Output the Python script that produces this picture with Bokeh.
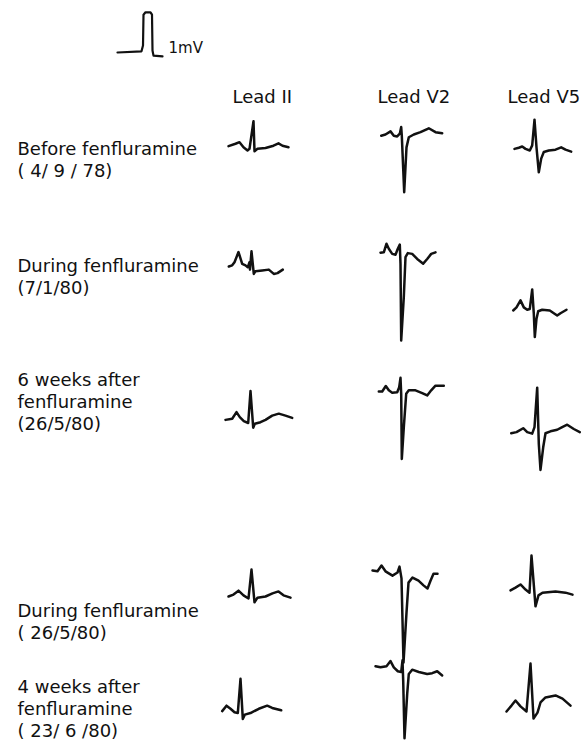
from bokeh.plotting import figure
from bokeh.models import Range1d
from bokeh.core.properties import value
from bokeh.embed import file_html
from bokeh.resources import INLINE

# ---------------- data ----------------
# calibration pulse (t in arbitrary time units, v in mV)
cal_t = [0, 24, 25.5, 26, 28, 33, 34.5, 35, 36, 45]
cal_mv = [0, 0.03, 0.18, 0.97, 1.03, 1.03, 0.97, 0.05, -0.08, -0.10]

leads = ["Lead II", "Lead V2", "Lead V5"]
stage_lines = [["Before fenfluramine", "( 4/ 9 / 78)"],
               ["During fenfluramine", "(7/1/80)"],
               ["6 weeks after", "fenfluramine", "(26/5/80)"],
               ["During fenfluramine", "( 26/5/80)"],
               ["4 weeks after", "fenfluramine", "( 23/ 6 /80)"]]

# Row 1: before fenfluramine (4/9/78)
ii_1_t = [8, 15, 19, 23, 27, 29, 33, 34, 37, 45, 53, 58, 62, 68]
ii_1_mv = [0.01, 0.07, 0.11, -0.02, -0.10, -0.06, 0.65, -0.12, -0.06, -0.04, 0.02, 0.08, 0.02, -0.02]
v2_1_t = [10.7, 15, 20, 23.3, 26.7, 29.3, 30.7, 31.3, 33.7, 36, 38.3, 43.3, 50, 58.3, 65, 71.7]
v2_1_mv = [-0.03, 0, 0.08, -0.03, -0.05, 0.02, 0.19, -0.03, -1.48, -0.33, -0.07, 0, 0.06, 0.16, 0.06, 0.03]
v5_1_t = [9, 13.3, 16.7, 20, 24.3, 26.7, 29, 31, 33.3, 35.7, 38.3, 43.3, 50, 55.7, 60, 65.7]
v5_1_mv = [-0.01, 0.02, 0.05, -0.01, -0.05, 0.08, 0.74, 0.03, -0.61, -0.26, -0.09, -0.05, -0.03, 0.03, -0.03, -0.08]

# Row 2: during fenfluramine (7/1/80)
ii_2_t = [8.3, 11.7, 14, 18, 21.7, 25, 27.3, 29, 29.5, 31, 33.3, 35, 41.7, 48.3, 53.3, 57, 62.3]
ii_2_mv = [0, 0.03, 0.11, 0.37, 0.07, 0.03, -0.02, 0.11, -0.08, 0.39, -0.19, -0.12, -0.10, -0.08, -0.19, -0.17, -0.08]
v2_2_t = [10, 13.3, 16, 18.3, 21.7, 25, 27.3, 29.3, 30, 30.7, 33.3, 35, 37.3, 41.7, 46.7, 52.7, 56.7, 60.7, 65]
v2_2_mv = [0.02, 0.03, 0.25, 0.12, -0.01, -0.03, 0.12, 0.23, -0.26, -2.23, -1.12, -0.09, 0.01, -0.01, -0.14, -0.26, -0.14, -0.01, 0.03]
v5_2_t = [7.7, 11, 15, 18.3, 21.7, 24.3, 26.7, 28.3, 29.3, 31, 32.7, 36.7, 44.3, 48.3, 51.7, 55, 61]
v5_2_mv = [0, 0.08, 0.26, 0.08, 0.02, 0.04, 0.54, -0.08, -0.68, -0.21, -0.02, 0.02, 0, -0.07, -0.13, -0.07, 0.02]

# Row 3: 6 weeks after fenfluramine (26/5/80)
ii_3_t = [5, 11.7, 16, 19.3, 23.3, 27.7, 30, 32.7, 34.3, 40, 45, 51.7, 58.3, 65, 71.7]
ii_3_mv = [-0.01, 0.02, 0.19, 0.06, -0.04, -0.09, 0.73, -0.21, -0.11, -0.07, -0.01, 0.10, 0.15, 0.10, 0.04]
v2_3_t = [8.3, 11.7, 15.3, 18.3, 21.7, 26.7, 28.7, 30, 30.7, 31.3, 33.3, 35.7, 38.3, 45, 51.7, 56.7, 60.7, 65, 73.3]
v2_3_mv = [0, 0, 0.14, 0.03, -0.03, -0.02, 0.11, 0.35, -0.06, -1.73, -0.92, -0.06, 0.03, 0.03, -0.04, -0.10, 0.03, 0.15, 0.15]
v5_3_t = [5.7, 11, 17.7, 21.7, 26.7, 29, 31.7, 33.3, 35, 37.7, 40, 45, 51.7, 56.7, 61.7, 68.3, 74.3]
v5_3_mv = [-0.02, 0.01, 0.11, 0.01, -0.03, 0.14, 1.15, -0.29, -0.96, -0.38, -0.02, 0.03, 0.07, 0.14, 0.20, 0.09, 0.01]

# Row 4: during fenfluramine (26/5/80)
ii_4_t = [8, 13, 18, 23, 28, 31, 34, 37, 45, 52, 58, 63, 70]
ii_4_mv = [0, 0.05, 0.15, 0.03, -0.05, 0.69, -0.15, -0.03, 0, 0.08, 0.13, 0.03, -0.03]
v2_4_t = [2, 7, 11, 15, 22, 27, 29, 31, 33, 36, 38, 42, 48, 53, 57, 60, 63, 67]
v2_4_mv = [0.05, 0.03, 0.18, 0.03, -0.08, 0, 0.15, -0.15, -2.31, -1.03, -0.26, -0.13, -0.21, -0.33, -0.41, -0.21, -0.03, -0.03]
v5_4_t = [5, 10, 15, 20, 24, 26, 30, 33, 37, 50, 60, 67]
v5_4_mv = [0.03, 0.10, 0.18, 0.05, -0.03, 0.92, -0.38, -0.10, -0.03, 0, -0.03, -0.08]

# Row 5: 4 weeks after fenfluramine (23/6/80)
ii_5_t = [1.7, 6, 10, 14, 17.3, 20, 22.3, 24.3, 30, 38.3, 46.7, 51.7, 60.7]
ii_5_mv = [0.01, 0.15, 0.07, -0.02, -0.04, 0.84, -0.19, -0.08, -0.04, 0.07, 0.15, 0.09, 0.03]
v2_5_t = [5, 10, 16, 20, 23.3, 27.3, 30.7, 32, 32.7, 34, 36.7, 38.3, 41.7, 48.3, 56.7, 61.7, 66.7, 71.7]
v2_5_mv = [0.06, 0.03, 0.06, 0.19, 0.03, -0.07, -0.09, 0.21, -0.31, -1.79, -0.65, -0.14, -0.03, -0.09, -0.14, -0.12, -0.07, -0.18]
v5_5_t = [1, 6, 10, 15, 21, 25, 28, 32, 35, 40, 50, 57, 65]
v5_5_mv = [-0.05, 0.10, 0.23, 0.08, -0.05, 1.18, -0.23, -0.08, 0.18, 0.31, 0.36, 0.28, 0.10]

traces = [
    [(ii_1_t, ii_1_mv), (v2_1_t, v2_1_mv), (v5_1_t, v5_1_mv)],
    [(ii_2_t, ii_2_mv), (v2_2_t, v2_2_mv), (v5_2_t, v5_2_mv)],
    [(ii_3_t, ii_3_mv), (v2_3_t, v2_3_mv), (v5_3_t, v5_3_mv)],
    [(ii_4_t, ii_4_mv), (v2_4_t, v2_4_mv), (v5_4_t, v5_4_mv)],
    [(ii_5_t, ii_5_mv), (v2_5_t, v2_5_mv), (v5_5_t, v5_5_mv)],
]

# ---------------- layout (page pixel coordinates) ----------------
PX_PER_MV = 39.0
COL_X = [220, 370, 505]
BASE_Y = [[146, 134, 148],
          [266, 253, 310],
          [419, 391, 432],
          [596, 572, 591],
          [711, 668, 709]]
CAL_X, CAL_Y = 117, 52
HEADER_X = [232, 377, 507]
HEADER_Y = 96
LABEL_X = 17
LABEL_Y = [[148, 170], [265, 287], [379, 401, 423], [610, 632], [686, 708, 730]]

INK = "#111111"
FONT = value("DejaVu Sans")

p = figure(width=583, height=742, output_backend="svg", toolbar_location=None,
           x_range=Range1d(0, 583), y_range=Range1d(742, 0), min_border=0)
p.axis.visible = False
p.grid.visible = False
p.outline_line_color = None
p.background_fill_color = "white"
p.border_fill_color = "white"

# calibration pulse
p.line([CAL_X + t for t in cal_t], [CAL_Y - v * PX_PER_MV for v in cal_mv],
       line_color=INK, line_width=2.2, line_join="round", line_cap="round")
p.text(x=[168], y=[47], text=["1mV"], text_font=FONT, text_font_size="15px",
       text_baseline="alphabetic", text_color=INK)

# ECG traces
for r, row in enumerate(traces):
    for c, (tt, mv) in enumerate(row):
        xs = [COL_X[c] + t for t in tt]
        ys = [BASE_Y[r][c] - v * PX_PER_MV for v in mv]
        p.line(xs, ys, line_color=INK, line_width=2.5, line_join="round", line_cap="round")

# headers
p.text(x=HEADER_X, y=[HEADER_Y] * 3, text=leads, text_font=FONT, text_font_size="18px",
       text_baseline="alphabetic", text_color=INK)

# row labels
for r, lines in enumerate(stage_lines):
    p.text(x=[LABEL_X] * len(lines), y=LABEL_Y[r], text=lines, text_font=FONT,
           text_font_size="18px", text_baseline="alphabetic", text_color=INK)

open("out.html", "w").write(file_html(p, INLINE))
